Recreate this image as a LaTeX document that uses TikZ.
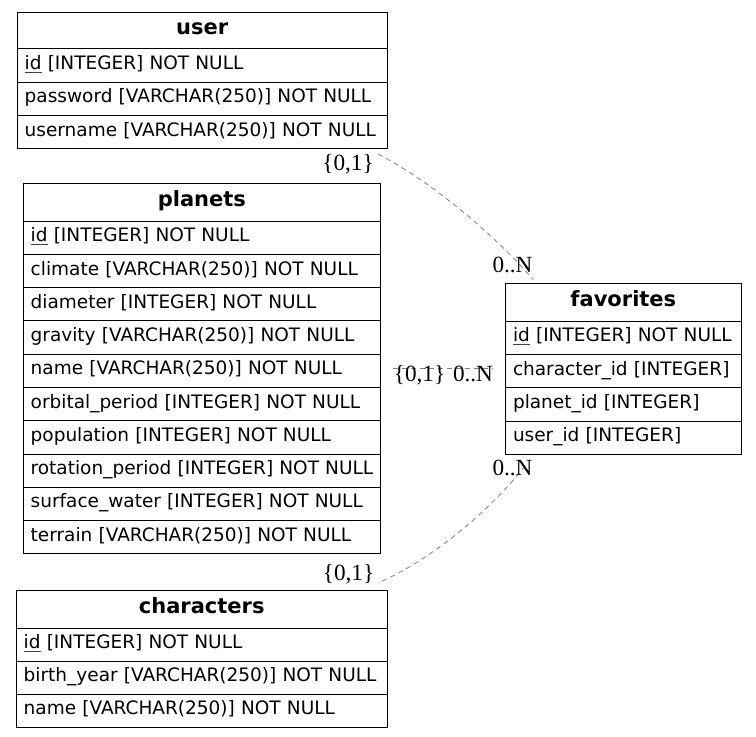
\documentclass[tikz,border=0pt]{standalone}
\usepackage{fontspec}
\setmainfont{DejaVu Sans}
\newfontfamily\lblfont{Liberation Serif}
\usetikzlibrary{calc}
\newcommand\pkey[1]{\setbox0\hbox{#1}\rlap{\color{black!75}\rule[-3.2pt]{\wd0}{0.7pt}}\box0\relax}
\tikzset{
  hdr/.style={draw=black, line width=1pt, anchor=north west, inner xsep=0pt, inner ysep=0pt,
    font=\fontsize{21}{24}\selectfont\bfseries, text height=15pt, text depth=6.5pt, align=center},
  fld/.style={draw=black, line width=1pt, anchor=north west, inner xsep=7.5pt, inner ysep=0pt,
    font=\fontsize{18.5}{22}\selectfont, text height=13pt, text depth=5pt, align=left},
  rel/.style={draw=gray, dash pattern=on 5pt off 4pt, line width=0.8pt},
  card/.style={font=\lblfont\fontsize{23.2}{27}\selectfont, anchor=base, inner sep=0pt}
}
\begin{document}
\begin{tikzpicture}[x=1pt,y=-1pt]
\path[fill=white] (0,0) rectangle (756,737);
\useasboundingbox (0,0) rectangle (756,737);

% user
\node[hdr, minimum width=370pt, text width=370pt, minimum height=36.3pt] (us0) at (16.7,12) {user};
\node[fld, minimum width=370pt, text width=355pt, minimum height=33.4pt] (us1) at (16.7,48.3) {\mbox{\pkey{id} [INTEGER] NOT NULL}};
\node[fld, minimum width=370pt, text width=355pt, minimum height=33.4pt] (us2) at (16.7,81.7) {\mbox{password [VARCHAR(250)] NOT NULL}};
\node[fld, minimum width=370pt, text width=355pt, minimum height=33.4pt] (us3) at (16.7,115) {\mbox{username [VARCHAR(250)] NOT NULL}};

% planets
\node[hdr, minimum width=357.3pt, text width=357.3pt, minimum height=37.4pt] (pl0) at (22.7,183.3) {planets};
\node[fld, minimum width=357.3pt, text width=342.3pt, minimum height=33.26pt] (pl1) at (22.7,220.7) {\mbox{\pkey{id} [INTEGER] NOT NULL}};
\node[fld, minimum width=357.3pt, text width=342.3pt, minimum height=33.26pt] (pl2) at (22.7,253.96) {\mbox{climate [VARCHAR(250)] NOT NULL}};
\node[fld, minimum width=357.3pt, text width=342.3pt, minimum height=33.26pt] (pl3) at (22.7,287.22) {\mbox{diameter [INTEGER] NOT NULL}};
\node[fld, minimum width=357.3pt, text width=342.3pt, minimum height=33.26pt] (pl4) at (22.7,320.48) {\mbox{gravity [VARCHAR(250)] NOT NULL}};
\node[fld, minimum width=357.3pt, text width=342.3pt, minimum height=33.26pt] (pl5) at (22.7,353.74) {\mbox{name [VARCHAR(250)] NOT NULL}};
\node[fld, minimum width=357.3pt, text width=342.3pt, minimum height=33.26pt] (pl6) at (22.7,387.0) {\mbox{orbital\_period [INTEGER] NOT NULL}};
\node[fld, minimum width=357.3pt, text width=342.3pt, minimum height=33.26pt] (pl7) at (22.7,420.26) {\mbox{population [INTEGER] NOT NULL}};
\node[fld, minimum width=357.3pt, text width=342.3pt, minimum height=33.26pt] (pl8) at (22.7,453.52) {\mbox{rotation\_period [INTEGER] NOT NULL}};
\node[fld, minimum width=357.3pt, text width=342.3pt, minimum height=33.26pt] (pl9) at (22.7,486.78) {\mbox{surface\_water [INTEGER] NOT NULL}};
\node[fld, minimum width=357.3pt, text width=342.3pt, minimum height=33.26pt] (pl10) at (22.7,520.04) {\mbox{terrain [VARCHAR(250)] NOT NULL}};

% favorites
\node[hdr, minimum width=235.7pt, text width=235.7pt, minimum height=37.4pt] (fv0) at (505,283.3) {favorites};
\node[fld, minimum width=235.7pt, text width=220.7pt, minimum height=33.3pt] (fv1) at (505,320.7) {\mbox{\pkey{id} [INTEGER] NOT NULL}};
\node[fld, minimum width=235.7pt, text width=220.7pt, minimum height=33.3pt] (fv2) at (505,354.0) {\mbox{character\_id [INTEGER]}};
\node[fld, minimum width=235.7pt, text width=220.7pt, minimum height=33.3pt] (fv3) at (505,387.3) {\mbox{planet\_id [INTEGER]}};
\node[fld, minimum width=235.7pt, text width=220.7pt, minimum height=33.3pt] (fv4) at (505,420.6) {\mbox{user\_id [INTEGER]}};

% characters
\node[hdr, minimum width=371pt, text width=371pt, minimum height=37.7pt] (ch0) at (15.7,590) {characters};
\node[fld, minimum width=371pt, text width=356pt, minimum height=33pt] (ch1) at (15.7,627.7) {\mbox{\pkey{id} [INTEGER] NOT NULL}};
\node[fld, minimum width=371pt, text width=356pt, minimum height=33pt] (ch2) at (15.7,660.7) {\mbox{birth\_year [VARCHAR(250)] NOT NULL}};
\node[fld, minimum width=371pt, text width=356pt, minimum height=33pt] (ch3) at (15.7,693.7) {\mbox{name [VARCHAR(250)] NOT NULL}};

% relations
\coordinate (e1a) at ([xshift=-9.7pt,yshift=-4.7pt]us3.south east);
\coordinate (e1b) at ([xshift=28pt,yshift=4pt]fv0.north west);
\draw[rel] (e1a) .. controls +(53,27) and +(-38,-44) .. (e1b);

\coordinate (m1) at ([xshift=12pt,yshift=2pt]pl5.east);
\coordinate (m2) at ([xshift=-12pt]fv2.west);
\draw[rel] (m1) -- (m1 -| m2);

\coordinate (e3a) at ([xshift=20pt,yshift=-11pt]fv4.south west);
\coordinate (e3b) at ([xshift=-9.7pt,yshift=7pt]ch0.north east);
\draw[rel] (e3a) .. controls +(-35,45) and +(53,-23) .. (e3b);

% cardinalities
\node[card] (k1) at (348,170.5) {\{0,1\}};
\node[card] (k2) at (512.5,272.7) {0..N};
\node[card] (k3) at (419.5,381.7) {\{0,1\}};
\node[card] (k4) at (473,381.7) {0..N};
\node[card] (k5) at (512.5,475) {0..N};
\node[card] (k6) at (348.5,580) {\{0,1\}};
\end{tikzpicture}
\end{document}
